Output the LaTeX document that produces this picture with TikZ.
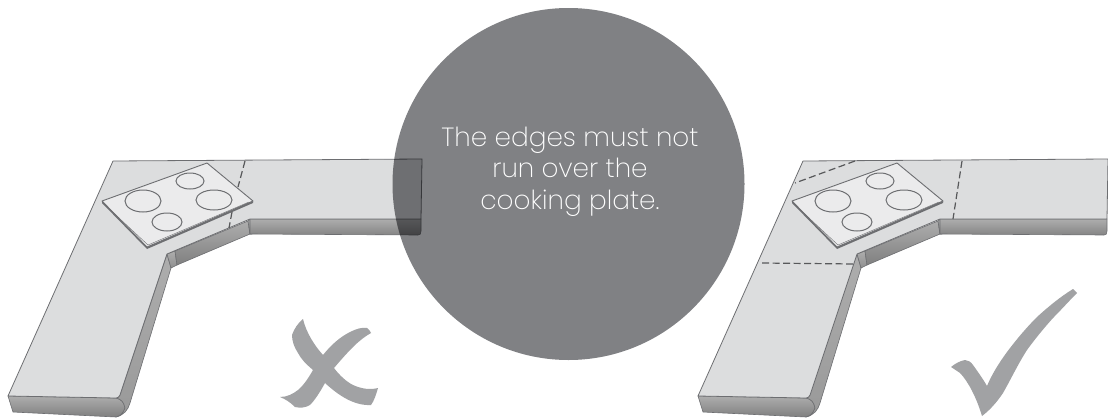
\documentclass[tikz,border=0pt]{standalone}
\usepackage{fontspec}
\setmainfont{Poppins}[UprightFont=* ExtraLight]
\definecolor{topc}{HTML}{DCDDDE}
\definecolor{platec}{HTML}{EBEBEC}
\definecolor{linec}{HTML}{6D6E71}
\definecolor{markc}{HTML}{A1A2A4}
\definecolor{discc}{HTML}{808184}
\tikzset{
  topface/.style={fill=topc,draw=linec,line width=.8pt,line join=round},
  frontface/.style={draw=linec,line width=.6pt,line join=round,top color=black!32,bottom color=black!#1},
  plateface/.style={fill=platec,draw=linec,line width=.9pt,line join=round},
  ring/.style={draw=linec,line width=1pt},
  cut/.style={draw=linec!80!black,line width=1.2pt,dash pattern=on 7pt off 3.5pt},
  markshape/.style={fill=markc,draw=none},
}
\newcommand{\Counter}[2]{%
\begin{scope}[shift={(#1,0)}]
  % front faces
  \path[frontface=50] (8,396) -- (116,398) .. controls (121,399) and (124,402) .. (125,408)
     .. controls (123,413) and (121,416) .. (116,417) -- (13,412) -- cycle;
  \path[frontface=40] (116,398) .. controls (118,398) and (119,397) .. (120,395) -- (167,254) -- (171,268) -- (130,403)
     .. controls (128,410) and (124,415) .. (116,417) .. controls (121,416) and (123,413) .. (125,408)
     .. controls (124,402) and (121,399) .. (116,398) -- cycle;
  \path[frontface=44] (167,254) -- (175,251) -- (177,265) -- (171,268) -- cycle;
  \path[frontface=50] (175,251) -- (248,221) -- (250,234) -- (177,265) -- cycle;
  \path[frontface=52] (248,221) -- (250,219) -- (252,234) -- (250,234) -- cycle;
  \path[frontface=48] (250,219) -- (#2,219) -- (#2,231) .. controls (#2,234) and (#2-1,235) .. (#2-3,235) -- (250,234) -- cycle;
  % top surface
  \path[topface] (113,161) -- (#2+1,159) -- (#2,219) -- (250,219) -- (167,254)
     -- (120,395) .. controls (119,397) and (118,398) .. (116,398) -- (8,396) -- cycle;
  % cooking plate
  \path[fill=linec] (102,201) -- (147,247) -- (253,201) -- (253,203) -- (147,249) -- (102,203) -- cycle;
  \path[plateface] (207,163) -- (253,201) -- (147,247) -- (102,201) -- cycle;
  \draw[linec,line width=.4pt] (104,204) -- (148,245) -- (249,202);
  \draw[ring] (143,201) ellipse [x radius=18,y radius=11];
  \draw[ring] (190,181) ellipse [x radius=14,y radius=8];
  \draw[ring] (214,200) ellipse [x radius=18,y radius=10];
  \draw[ring] (167,222) ellipse [x radius=15,y radius=9];
\end{scope}}
\begin{document}
\begin{tikzpicture}[x=1pt,y=-1pt]
\useasboundingbox (0,0) rectangle (1108,418);
\fill[white] (0,0) rectangle (1108,418);
\Counter{0}{421}
\Counter{690}{417}
% dashed cuts, left
\path[cut] (245,161) -- (238,187);
\path[cut] (232,212) -- (229,228);
% dashed cuts, right
\path[cut] (855,161) -- (795,183);
\path[cut] (962,161) -- (953,219);
\path[cut] (762,263) -- (855,264);
% cross
\path[markshape] (303,319) .. controls (306,332) and (314,345) .. (323,355)
  .. controls (331,345) and (340,337) .. (350,332)
  .. controls (356,329) and (362,327) .. (367,328)
  .. controls (369,329) and (370,331) .. (371,333)
  .. controls (364,337) and (358,342) .. (353,347)
  .. controls (346,354) and (340,361) .. (334,368)
  .. controls (340,376) and (347,382) .. (353,385)
  .. controls (362,389) and (370,390) .. (378,388)
  .. controls (376,395) and (374,401) .. (371,405)
  .. controls (354,406) and (338,395) .. (325,383)
  .. controls (320,392) and (315,400) .. (310,405)
  .. controls (305,408) and (300,408) .. (295,407)
  .. controls (290,402) and (285,399) .. (280,397)
  .. controls (287,397) and (293,394) .. (298,390)
  .. controls (304,385) and (309,377) .. (313,370)
  .. controls (306,364) and (301,359) .. (298,353)
  .. controls (294,347) and (292,341) .. (292,335)
  .. controls (294,329) and (298,323) .. (303,319) -- cycle;
% tick
\path[markshape] (951,367) .. controls (956,363) and (960,361) .. (965,360)
  .. controls (968,360) and (971,362) .. (973,365)
  .. controls (978,372) and (983,379) .. (987,386)
  .. controls (992,374) and (999,363) .. (1007,352)
  .. controls (1016,340) and (1026,328) .. (1037,317)
  .. controls (1048,307) and (1060,297) .. (1073,289)
  -- (1077,293)
  .. controls (1069,301) and (1061,310) .. (1053,318)
  .. controls (1044,328) and (1035,339) .. (1027,350)
  .. controls (1018,364) and (1011,379) .. (1003,393)
  .. controls (997,402) and (990,410) .. (982,416)
  .. controls (979,406) and (975,396) .. (970,387)
  .. controls (967,382) and (964,377) .. (960,373)
  .. controls (957,371) and (954,369) .. (951,367) -- cycle;
% disc
\begin{scope}[blend mode=multiply]
\fill[discc] (568.5,184) circle [radius=176];
\end{scope}
\node[name=msg,text=white,align=center,font=\fontsize{26.3}{31.5}\selectfont,inner sep=0pt,anchor=base] at (570,209)
  {The edges must not\\run over the\\cooking plate.};
\end{tikzpicture}
\end{document}
